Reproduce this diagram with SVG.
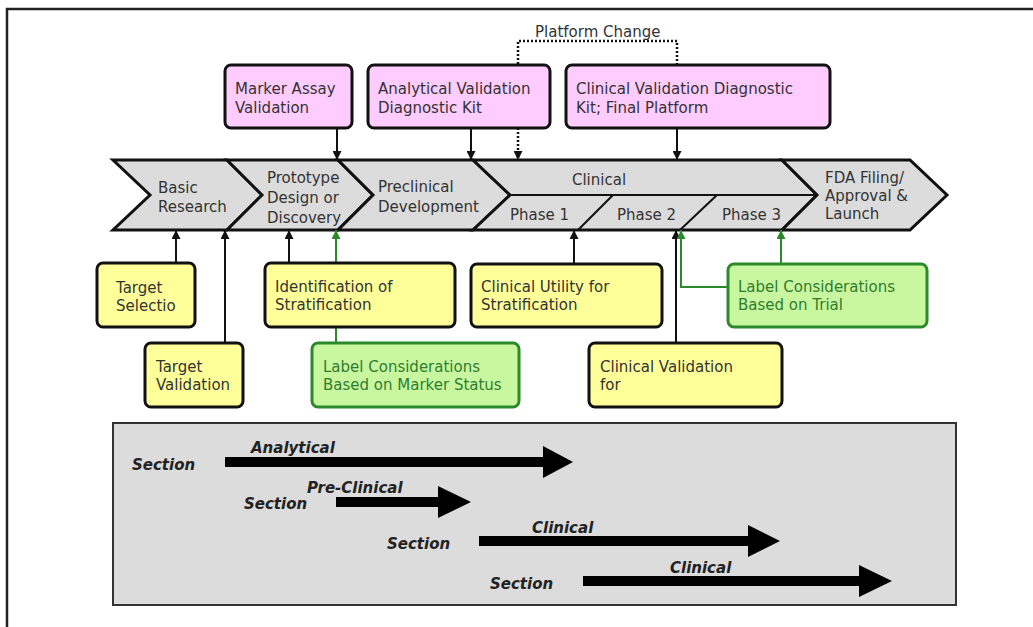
<svg xmlns="http://www.w3.org/2000/svg" width="1033" height="627" viewBox="0 0 1033 627">
<style>
text{font-family:"DejaVu Sans",Verdana,"Liberation Sans",sans-serif;font-size:15px;fill:#333}
.chev{fill:#dcdcdc;stroke:#111;stroke-width:3;stroke-linejoin:miter}
.pink{fill:#ffccff;stroke:#111;stroke-width:3}
.yel{fill:#ffff99;stroke:#111;stroke-width:3}
.grn{fill:#c8f7a0;stroke:#2a8a2a;stroke-width:3}
.gt{fill:#2f7d2f}
.c{fill:none;stroke:#111;stroke-width:2}
.cg{fill:none;stroke:#2a8a2a;stroke-width:2}
.dot{fill:none;stroke:#111;stroke-width:2.5;stroke-dasharray:2 2}
.sec{font-weight:bold;font-style:italic;fill:#222}
.big{fill:#000}
</style>
<defs>
<marker id="ab" viewBox="0 0 10 10" refX="10" refY="5" markerWidth="9" markerHeight="9" markerUnits="userSpaceOnUse" orient="auto"><path d="M0,0 L10,5 L0,10 z" fill="#111"/></marker>
<marker id="ag" viewBox="0 0 10 10" refX="10" refY="5" markerWidth="9" markerHeight="9" markerUnits="userSpaceOnUse" orient="auto"><path d="M0,0 L10,5 L0,10 z" fill="#2a8a2a"/></marker>
</defs>
<rect x="0" y="0" width="1033" height="627" fill="#fff"/>
<rect x="7" y="9" width="1050" height="650" fill="none" stroke="#222" stroke-width="2.5"/>

<g id="band">
<g id="basic"><polygon class="chev" points="113,160 227,160 262,195 227,230 113,230 150,195"/><text x="158" y="193">Basic</text><text x="158" y="212">Research</text></g>
<g id="prototype"><polygon class="chev" points="227,160 338,160 373,195 338,230 227,230 262,195"/><text x="267" y="183">Prototype</text><text x="267" y="203">Design or</text><text x="267" y="223">Discovery</text></g>
<g id="preclinical"><polygon class="chev" points="338,160 473,160 510,195 473,230 338,230 373,195"/><text x="378" y="192">Preclinical</text><text x="378" y="212">Development</text></g>
<g id="clinical"><polygon class="chev" points="473,160 782,160 817,195 782,230 473,230 510,195"/>
<path class="c" d="M510,195 L817,195 M613,195 L578,230 M717,195 L680,230" stroke-width="2.5"/>
<text x="599" y="185" text-anchor="middle">Clinical</text>
<text x="510" y="220">Phase 1</text><text x="617" y="220">Phase 2</text><text x="722" y="220">Phase 3</text></g>
<g id="fda"><polygon class="chev" points="782,160 910,160 947,195 910,230 782,230 817,195"/><text x="825" y="183">FDA Filing/</text><text x="825" y="201">Approval &amp;</text><text x="825" y="219">Launch</text></g>
</g>

<g id="connectors">
<path class="c" d="M337,128 L337,160" marker-end="url(#ab)"/>
<path class="c" d="M471,128 L471,160" marker-end="url(#ab)"/>
<path class="c" d="M677,128 L677,160" marker-end="url(#ab)"/>
<path class="dot" d="M518,128 L518,41 L677,41 L677,65"/>
<path class="dot" d="M518,128 L518,160" marker-end="url(#ab)"/>
<path class="c" d="M176,263 L176,230" marker-end="url(#ab)"/>
<path class="c" d="M225,343 L225,230" marker-end="url(#ab)"/>
<path class="c" d="M289,263 L289,230" marker-end="url(#ab)"/>
<path class="cg" d="M336,343 L336,230" marker-end="url(#ag)"/>
<path class="c" d="M574,264 L574,230" marker-end="url(#ab)"/>
<path class="c" d="M676,343 L676,230" marker-end="url(#ab)"/>
<path class="cg" d="M728,287 L681,287 L681,230" marker-end="url(#ag)"/>
<path class="cg" d="M781,264 L781,230" marker-end="url(#ag)"/>
<text x="535" y="37">Platform Change</text>
</g>

<g id="marker-assay"><rect class="pink" x="225" y="65" width="127" height="63" rx="6"/><text x="235" y="94">Marker Assay</text><text x="235" y="113">Validation</text></g>
<g id="analytical-kit"><rect class="pink" x="368" y="65" width="182" height="63" rx="6"/><text x="378" y="94">Analytical Validation</text><text x="378" y="113">Diagnostic Kit</text></g>
<g id="clinical-kit"><rect class="pink" x="566" y="65" width="264" height="63" rx="6"/><text x="576" y="94">Clinical Validation Diagnostic</text><text x="576" y="113">Kit; Final Platform</text></g>

<g id="target-selection"><rect class="yel" x="97" y="263" width="98" height="64" rx="6"/><text x="116" y="293">Target</text><text x="116" y="311">Selectio</text></g>
<g id="target-validation"><rect class="yel" x="145" y="343" width="98" height="64" rx="6"/><text x="156" y="372">Target</text><text x="156" y="390">Validation</text></g>
<g id="identification"><rect class="yel" x="265" y="263" width="190" height="64" rx="6"/><text x="275" y="292">Identification of</text><text x="275" y="310">Stratification</text></g>
<g id="label-marker"><rect class="grn" x="312" y="343" width="207" height="64" rx="6"/><text class="gt" x="323" y="372">Label Considerations</text><text class="gt" x="323" y="390">Based on Marker Status</text></g>
<g id="clinical-utility"><rect class="yel" x="471" y="264" width="191" height="63" rx="6"/><text x="481" y="292">Clinical Utility for</text><text x="481" y="310">Stratification</text></g>
<g id="clinical-validation"><rect class="yel" x="589" y="343" width="193" height="64" rx="6"/><text x="600" y="372">Clinical Validation</text><text x="600" y="390">for</text></g>
<g id="label-trial"><rect class="grn" x="728" y="264" width="199" height="63" rx="6"/><text class="gt" x="738" y="292">Label Considerations</text><text class="gt" x="738" y="310">Based on Trial</text></g>

<g id="sections">
<rect x="113" y="423" width="843" height="182" fill="#dcdcdc" stroke="#333" stroke-width="2"/>
<polygon class="big" points="225,457 543,457 543,446 573,462 543,478 543,467 225,467"/>
<polygon class="big" points="336,497 438,497 438,486 471,502 438,518 438,507 336,507"/>
<polygon class="big" points="479,536 748,536 748,525 780,541 748,557 748,546 479,546"/>
<polygon class="big" points="583,576 859,576 859,565 892,581 859,597 859,586 583,586"/>
<text class="sec" x="132" y="470">Section</text><text class="sec" x="251" y="453">Analytical</text>
<text class="sec" x="244" y="509">Section</text><text class="sec" x="307" y="493">Pre-Clinical</text>
<text class="sec" x="387" y="549">Section</text><text class="sec" x="532" y="533">Clinical</text>
<text class="sec" x="490" y="589">Section</text><text class="sec" x="670" y="573">Clinical</text>
</g>
</svg>
